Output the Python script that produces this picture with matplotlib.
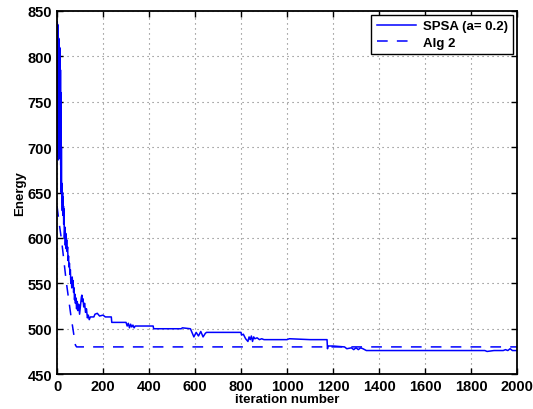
import numpy as np
import matplotlib
matplotlib.use('Agg')
import matplotlib.pyplot as plt

plt.rcParams['font.family'] = ['Liberation Sans', 'DejaVu Sans']
plt.rcParams['font.weight'] = 'bold'

# SPSA (a= 0.2) trace
spsa_iter = [0, 1, 2, 3, 4, 5, 6, 7, 8, 9, 10, 11, 12, 13, 14, 15, 16, 17, 18, 19,
             20, 21, 22, 23, 24, 25, 26, 27, 28, 29, 30, 32, 34, 36, 38, 40, 42, 44,
             46, 48, 50, 52, 54, 56, 58, 60, 62, 64, 66, 68, 70, 72, 74, 76, 78, 80,
             82, 85, 88, 90, 94, 98, 102, 106, 108, 110, 113, 116, 120, 124, 128,
             132, 136, 140, 145, 160, 165, 175, 185, 200, 210, 236, 238, 300, 305,
             310, 315, 320, 325, 330, 335, 340, 418, 420, 540, 545, 580, 585, 595,
             605, 615, 625, 635, 645, 650, 700, 760, 800, 802, 810, 820, 830, 835,
             840, 845, 850, 855, 860, 870, 880, 890, 900, 1000, 1010, 1100, 1174,
             1176, 1178, 1200, 1250, 1260, 1280, 1290, 1300, 1310, 1320, 1330, 1345,
             1400, 1860, 1870, 1900, 1940, 1950, 1960, 1970, 1980, 2000]
spsa_val = [690, 838, 700, 835, 690, 822, 686, 820, 700, 818, 688, 810, 720, 808, 690,
            785, 680, 760, 650, 700, 655, 640, 660, 630, 650, 625, 645, 628, 635, 615,
            632, 600, 612, 592, 605, 588, 598, 585, 590, 575, 580, 568, 572, 560, 565,
            550, 556, 545, 557, 548, 553, 540, 545, 532, 538, 528, 534, 522, 530, 520,
            527, 516, 525, 535, 537, 530, 533, 524, 528, 518, 522, 512, 515, 510, 513,
            513, 516, 517, 514, 515, 513, 513, 507, 507, 503, 506, 501, 505, 502, 504,
            501, 503, 503, 500, 500, 501, 500, 497, 491, 496, 492, 497, 491, 495, 496,
            496, 496, 496, 493, 494, 489, 486, 491, 488, 492, 486, 491, 489, 490, 488,
            489, 488, 488, 489, 488, 488, 478, 481, 481, 480, 478, 479, 477, 479, 477,
            479, 478, 476, 476, 476, 475, 476, 476, 477, 476, 478, 476, 476]

# Alg 2 trace
alg2_iter = [0, 10, 20, 40, 60, 80, 85, 2000]
alg2_val = [635, 615, 597, 552, 515, 482, 480, 480]

fig = plt.figure(figsize=(5.33, 4.10), dpi=100)
ax = fig.add_axes([0.107, 0.085, 0.863, 0.886])

ax.plot(spsa_iter, spsa_val, '-', color='#0000ff', lw=1.1, label='SPSA (a= 0.2)')
ax.plot(alg2_iter, alg2_val, '--', color='#0000ff', lw=1.1, dashes=(7, 6), label='Alg 2')

ax.set_xlim(0, 2000)
ax.set_ylim(450, 850)
ax.set_xticks(np.arange(0, 2001, 200))
ax.set_yticks(np.arange(450, 851, 50))
ax.grid(True, linestyle=(0, (1, 3.5)), color='#777777', lw=0.8)
ax.tick_params(direction='in', top=True, right=True, labelsize=10.5, length=4, width=1.0)
for s in ax.spines.values():
    s.set_linewidth(1.3)
for lab in ax.get_xticklabels() + ax.get_yticklabels():
    lab.set_fontweight('bold')

ax.set_xlabel('iteration number', fontsize=9.5, fontweight='bold', labelpad=0)
ax.set_ylabel('Energy', fontsize=9.5, fontweight='bold', labelpad=1)

leg = ax.legend(loc='upper right', fontsize=9.5, fancybox=False, edgecolor='black',
                framealpha=1, borderaxespad=0.3, handlelength=3.0, borderpad=0.4,
                labelspacing=0.3, handletextpad=0.5)
leg.get_frame().set_linewidth(1.0)
for t in leg.get_texts():
    t.set_fontweight('bold')

fig.savefig('out.png', dpi=100)
